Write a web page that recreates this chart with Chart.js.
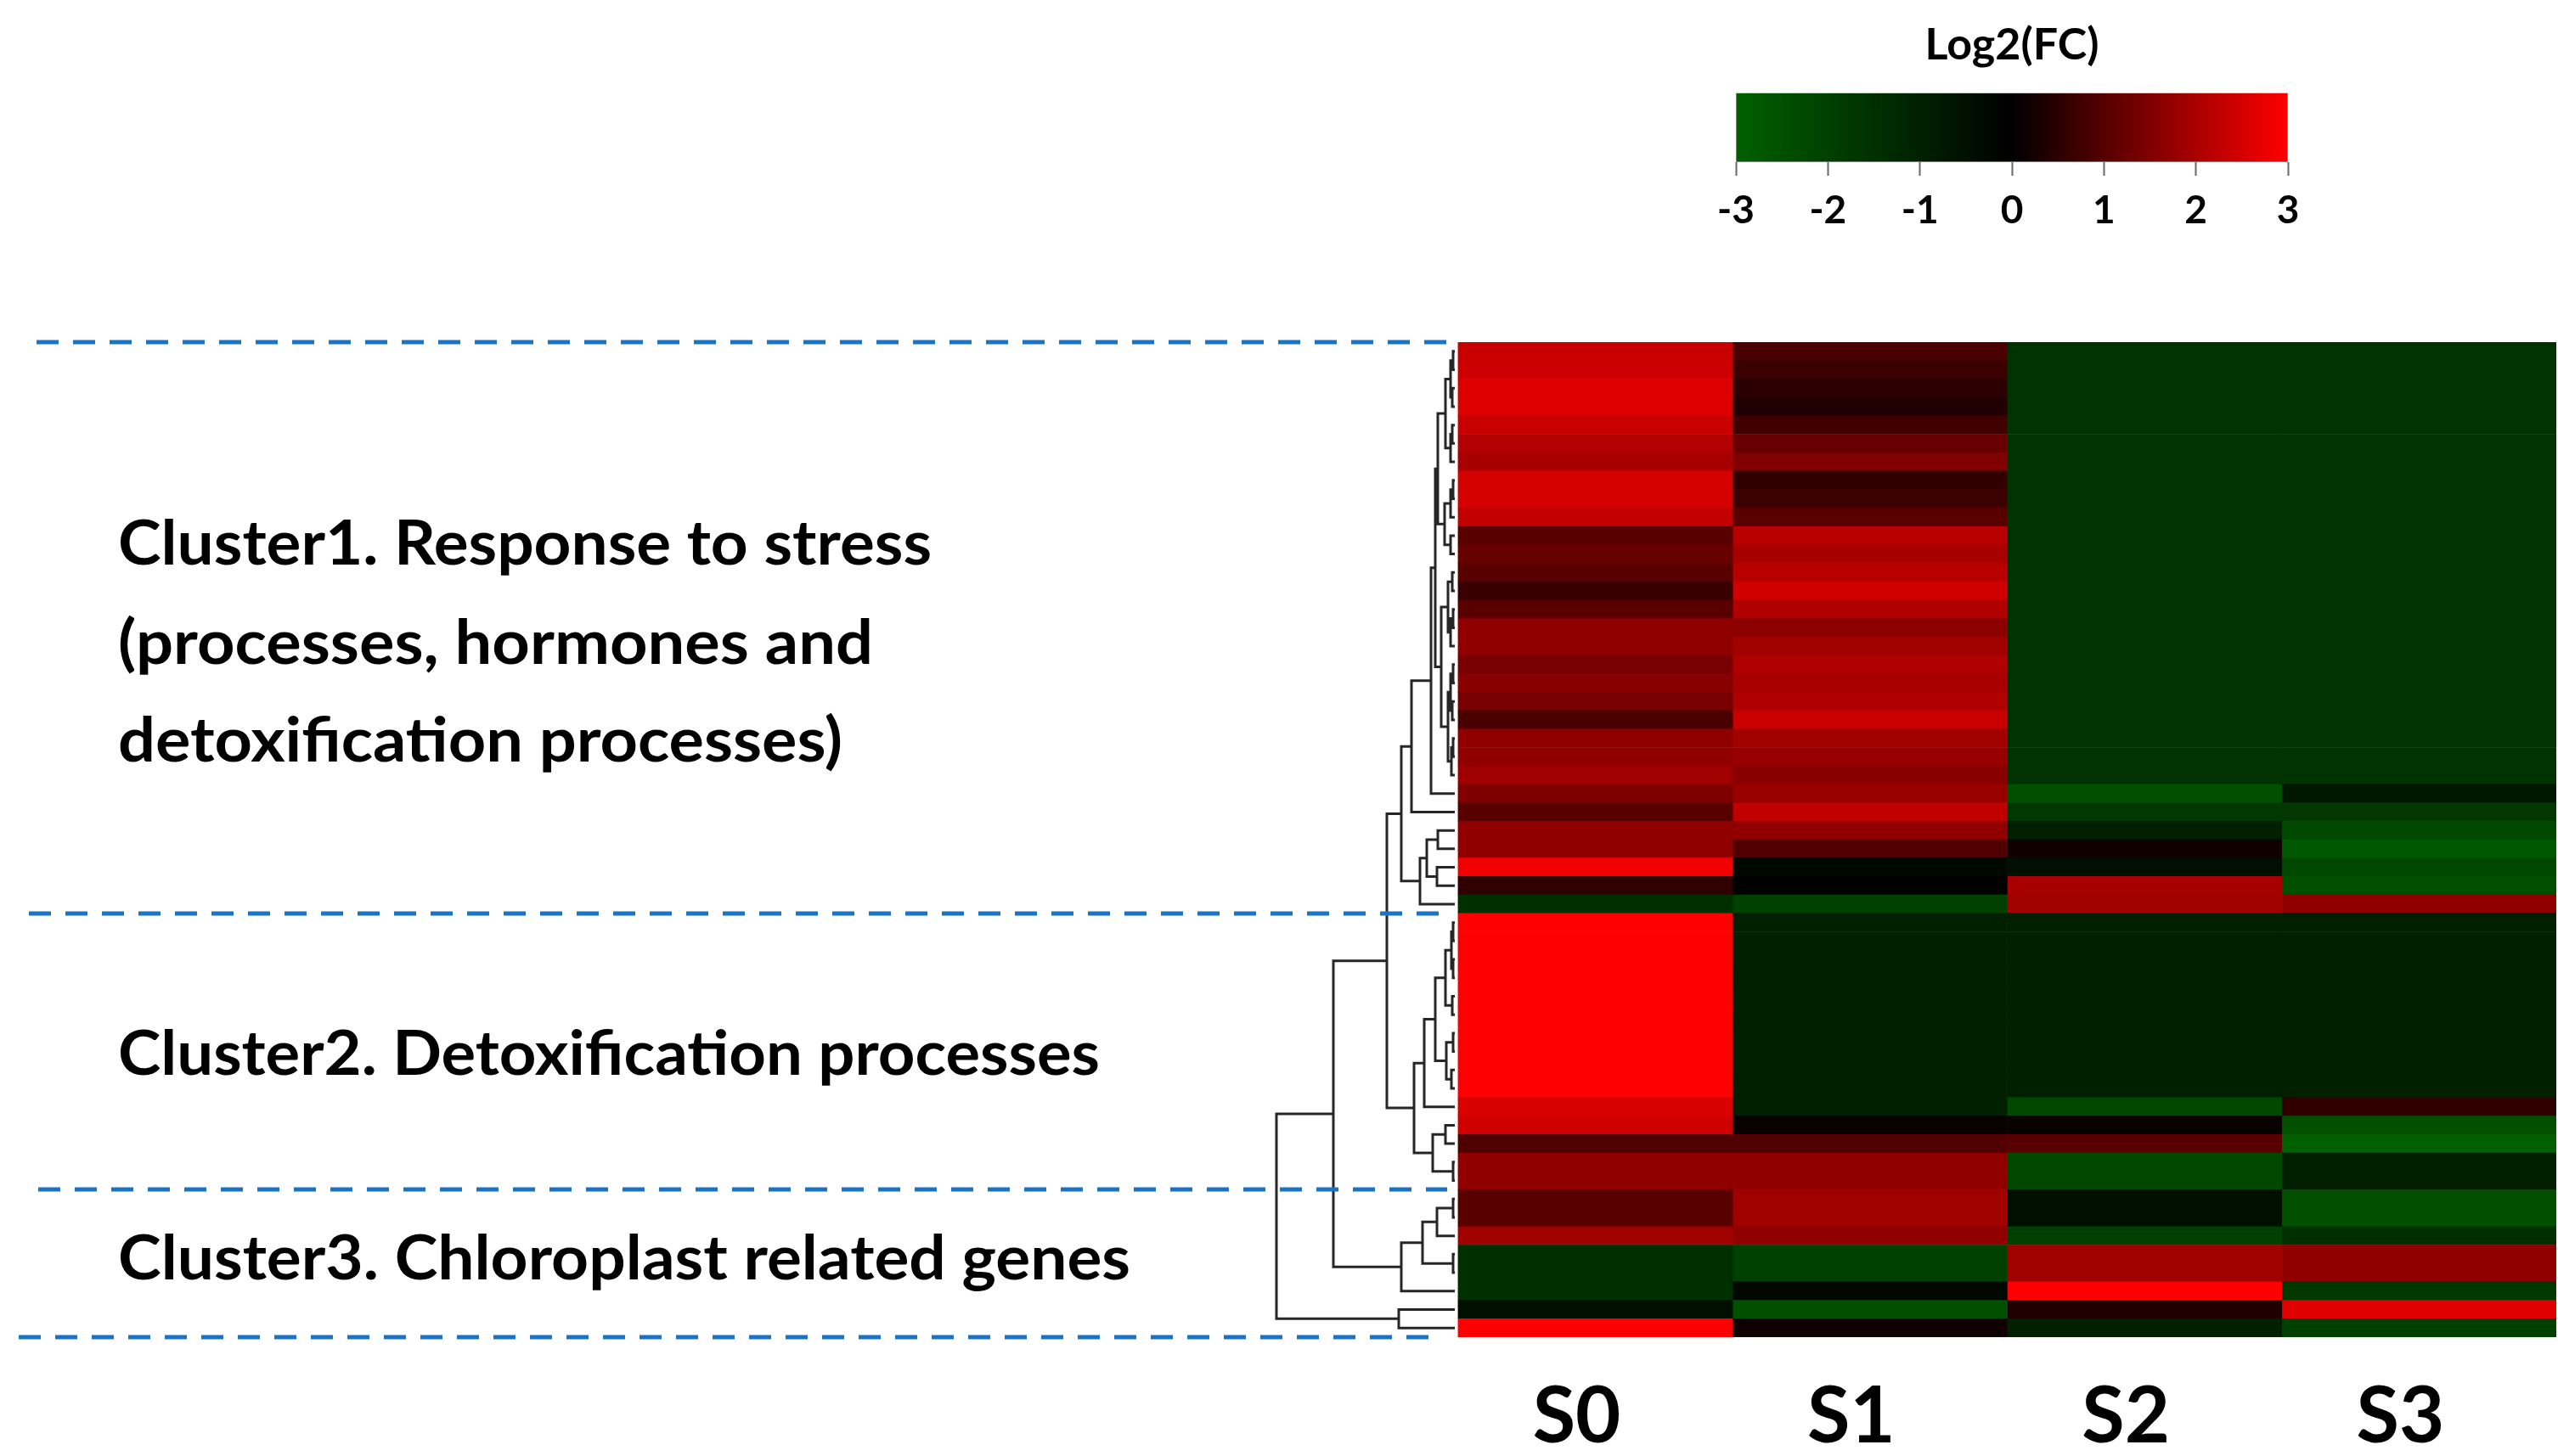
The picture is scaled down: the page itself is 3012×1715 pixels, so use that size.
<!DOCTYPE html>
<html>
<head>
<meta charset="utf-8">
<script src="https://cdn.jsdelivr.net/npm/chart.js@4.4.1/dist/chart.umd.min.js"></script>
<style>
  html, body { margin: 0; padding: 0; background: #fff; }
  #wrap { position: relative; width: 3012px; height: 1715px; overflow: hidden; }
  #heat { position: absolute; left: 0; top: 0; }
  #scale { position: absolute; left: 1929px; top: 0; }
</style>
</head>
<body>
<div id="wrap">
  <canvas id="heat" width="3012" height="1715"></canvas>
  <canvas id="scale" width="900" height="280"></canvas>
</div>
<script>
var columns = ['S0', 'S1', 'S2', 'S3'];

// log2 fold change per gene row, top to bottom
var s0 = [2.35, 2.4, 2.6, 2.6, 2.35, 2.1, 1.98, 2.5, 2.5, 2.3,
          1.03, 1.22, 1.03, 0.66, 1.03, 1.7, 1.7, 1.41, 1.6, 1.41,
          0.85, 1.7, 1.7, 1.88, 1.5, 1.03, 1.7, 1.7, 2.82, 0.56, -1.5,
          3, 3, 3, 3, 3, 3, 3, 3, 3, 3, 2.54, 2.45, 0.94, 1.7, 1.7,
          1.03, 1.03, 1.88, -1.5, -1.5, -1.5, -0.5, 3];
var s1 = [0.85, 0.7, 0.52, 0.38, 0.75, 1.22, 1.5, 0.56, 0.7, 1.03,
          2.16, 1.98, 2.16, 2.45, 2.07, 1.65, 1.88, 2.07, 1.98, 2.07,
          2.35, 1.88, 1.79, 1.6, 1.79, 2.26, 1.7, 0.94, -0.25, 0, -2,
          -1, -1, -1, -1, -1, -1, -1, -1, -1, -1, -1, 0.1, 0.94, 1.7, 1.7,
          1.88, 1.88, 1.7, -2, -2, -0.25, -2.5, 0.19];
var s2 = [-1.6, -1.6, -1.6, -1.6, -1.6, -1.6, -1.6, -1.6, -1.6, -1.6,
          -1.6, -1.6, -1.6, -1.6, -1.6, -1.6, -1.6, -1.6, -1.6, -1.6,
          -1.6, -1.6, -1.6, -1.6, -2.5, -1.75, -1, 0.19, -0.5, 1.98, 1.88,
          -1, -1, -1, -1, -1, -1, -1, -1, -1, -1, -2.25, 0.1, 1.03, -2.25, -2.25,
          -0.5, -0.5, -2, 1.88, 1.88, 3, 0.38, -1];
var s3 = [-1.6, -1.6, -1.6, -1.6, -1.6, -1.6, -1.6, -1.6, -1.6, -1.6,
          -1.6, -1.6, -1.6, -1.6, -1.6, -1.6, -1.6, -1.6, -1.6, -1.6,
          -1.6, -1.6, -1.6, -1.6, -0.75, -1.75, -2.25, -2.75, -2.25, -2.5, 1.7,
          -1, -1, -1, -1, -1, -1, -1, -1, -1, -1, 0.56, -2.5, -3, -1, -1,
          -2.5, -2.5, -1.5, 1.7, 1.7, -1.75, 2.64, -2];

// row where each cluster starts (last = total rows)
var clusterEdges = [0, 31, 46, 54];
var clusterText = [
  ['Cluster1. Response to stress', '(processes, hormones and', 'detoxification processes)'],
  ['Cluster2. Detoxification processes'],
  ['Cluster3. Chloroplast related genes']
];
var scaleTicks = [-3, -2, -1, 0, 1, 2, 3];

// row clustering: [child a, child b, height]; leaves 0..53, merge k -> id 54+k
var linkage = [
  [0, 1, 2], [2, 3, 3], [54, 55, 5], [4, 5, 3], [57, 6, 5], [56, 58, 11],
  [7, 8, 2], [60, 9, 5], [10, 11, 5], [61, 62, 12], [59, 63, 20],
  [12, 13, 3], [14, 15, 2], [66, 16, 5], [65, 67, 8], [17, 18, 2], [19, 20, 3],
  [69, 70, 5], [21, 22, 2], [72, 23, 4], [71, 73, 8], [68, 74, 16], [64, 75, 23],
  [76, 24, 28], [77, 25, 51], [26, 27, 20], [28, 29, 21], [79, 80, 33],
  [81, 30, 41], [78, 82, 63],
  [31, 32, 2], [33, 34, 2], [84, 85, 4], [35, 36, 3], [86, 87, 11],
  [37, 38, 2], [39, 40, 4], [89, 90, 10], [88, 91, 23], [92, 41, 36],
  [42, 43, 11], [44, 45, 2], [94, 95, 26], [93, 96, 48], [83, 97, 80],
  [46, 47, 2], [99, 48, 21], [49, 50, 2], [100, 101, 38], [102, 51, 63],
  [98, 103, 143], [52, 53, 66], [104, 105, 210]
];

var FONT = 'Lato, "Open Sans", sans-serif';

function heatColor(v) {
  var t = Math.min(Math.abs(v), 3) / 3;
  if (v >= 0) return 'rgb(' + Math.round(255 * t) + ',0,0)';
  return 'rgb(0,' + Math.round(96 * t) + ',0)';
}

var series = [s0, s1, s2, s3];
var datasets = series.map(function (vals, c) {
  return {
    type: 'bar',
    label: columns[c],
    indexAxis: 'y',
    xAxisID: 'x',
    yAxisID: 'y',
    data: vals.map(function (v, i) { return { y: i + 0.5, x: [c, c + 1] }; }),
    backgroundColor: vals.map(heatColor),
    borderWidth: 0,
    grouped: false,
    barPercentage: 1,
    categoryPercentage: 1,
    order: 2
  };
});

// dendrogram path from the linkage
var nodes = [];
s0.forEach(function (v, i) { nodes.push({ h: 0, y: i + 0.5 }); });
var treePts = [];
linkage.forEach(function (m) {
  var a = nodes[m[0]], b = nodes[m[1]];
  treePts.push({ x: a.h, y: a.y }, { x: m[2], y: a.y }, { x: m[2], y: b.y }, { x: b.h, y: b.y }, { x: m[2], y: null });
  nodes.push({ h: m[2], y: (a.y + b.y) / 2 });
});
datasets.push({
  type: 'line',
  indexAxis: 'x',
  xAxisID: 'xd',
  yAxisID: 'y',
  data: treePts,
  borderColor: '#262626',
  borderWidth: 3,
  pointRadius: 0,
  spanGaps: false,
  tension: 0,
  fill: false,
  clip: false,
  order: 1
});

// layout of the annotations on the left
var guideStart = [43, 34, 45, 22];
var guideEnd = [1716, 1700, 1704, 1685];
var textX = 139;
var textBase = [[665, 782, 897], [1266], [1507]];
var textWidth = [[958, 889, 853], [1156], [1192]];

function fitText(ctx, text, x, y, w) {
  var m = ctx.measureText(text).width;
  ctx.save();
  ctx.translate(x, y);
  ctx.scale(w / m, 1);
  ctx.fillText(text, 0, 0);
  ctx.restore();
}

var guides = {
  id: 'guides',
  afterDraw: function (chart) {
    var ctx = chart.ctx, ys = chart.scales.y;
    ctx.save();
    ctx.strokeStyle = '#1a73c5';
    ctx.lineWidth = 5;
    ctx.setLineDash([26, 17]);
    clusterEdges.forEach(function (edge, i) {
      var py = Math.round(ys.getPixelForValue(edge));
      ctx.beginPath();
      ctx.moveTo(guideStart[i], py);
      ctx.lineTo(guideEnd[i], py);
      ctx.stroke();
    });
    ctx.setLineDash([]);
    ctx.fillStyle = '#000';
    ctx.textBaseline = 'alphabetic';
    ctx.textAlign = 'left';
    ctx.font = 'bold 72px ' + FONT;
    clusterText.forEach(function (lines, k) {
      lines.forEach(function (t, j) {
        fitText(ctx, t, textX, textBase[k][j], textWidth[k][j]);
      });
    });
    ctx.restore();
  }
};

new Chart(document.getElementById('heat'), {
  type: 'bar',
  data: { datasets: datasets },
  plugins: [guides],
  options: {
    responsive: false,
    animation: false,
    devicePixelRatio: 1,
    layout: { padding: { left: 1500, right: 2, top: 403, bottom: 0 } },
    plugins: { legend: { display: false }, tooltip: { enabled: false } },
    scales: {
      x: {
        type: 'linear', axis: 'x', position: 'bottom', min: -0.671, max: 4, offset: false,
        grid: { display: false, drawTicks: false },
        border: { display: false },
        afterBuildTicks: function (scale) {
          scale.ticks = columns.map(function (c, i) { return { value: i + 0.5 }; });
        },
        afterFit: function (scale) { scale.height = 140; },
        ticks: {
          autoSkip: false, maxRotation: 0, padding: 48, labelOffset: -22, color: '#000',
          font: { family: FONT, weight: 'bold', size: 92, lineHeight: 1 },
          callback: function (v, i) { return columns[i]; }
        }
      },
      xd: { type: 'linear', axis: 'x', display: false, reverse: true, min: -1297, max: 213, offset: false },
      y: { type: 'linear', axis: 'y', display: false, reverse: true, min: 0, max: clusterEdges[clusterEdges.length - 1], offset: false }
    }
  }
});

new Chart(document.getElementById('scale'), {
  type: 'bar',
  data: {
    labels: [''],
    datasets: [{
      data: [[scaleTicks[0], scaleTicks[scaleTicks.length - 1]]],
      backgroundColor: function (c) {
        var ch = c.chart, xs = ch.scales.x;
        if (!ch.chartArea || !xs) return '#000';
        var lo = scaleTicks[0], hi = scaleTicks[scaleTicks.length - 1];
        var g = ch.ctx.createLinearGradient(xs.getPixelForValue(lo), 0, xs.getPixelForValue(hi), 0);
        g.addColorStop(0, heatColor(lo));
        g.addColorStop((0 - lo) / (hi - lo), heatColor(0));
        g.addColorStop(1, heatColor(hi));
        return g;
      },
      borderWidth: 1,
      borderColor: '#9a9a9a',
      borderSkipped: false,
      barPercentage: 1,
      categoryPercentage: 1
    }]
  },
  options: {
    indexAxis: 'y',
    responsive: false,
    animation: false,
    devicePixelRatio: 1,
    layout: { padding: { left: 115, right: 135, top: 0, bottom: 0 } },
    plugins: {
      legend: { display: false },
      tooltip: { enabled: false },
      title: {
        display: true, text: 'Log2(FC)', color: '#000',
        font: { family: FONT, weight: 'bold', size: 52, lineHeight: 1.2 },
        padding: { top: 22, bottom: 25 }
      }
    },
    scales: {
      x: {
        type: 'linear', min: scaleTicks[0], max: scaleTicks[scaleTicks.length - 1], offset: false,
        grid: { drawOnChartArea: false, drawTicks: true, tickLength: 16, tickColor: '#666', tickWidth: 2 },
        border: { display: false },
        afterFit: function (scale) { scale.height = 89; },
        ticks: { stepSize: 1, padding: 18, color: '#000', font: { family: FONT, weight: 'bold', size: 46, lineHeight: 1 } }
      },
      y: { display: false }
    }
  }
});
</script>
</body>
</html>
